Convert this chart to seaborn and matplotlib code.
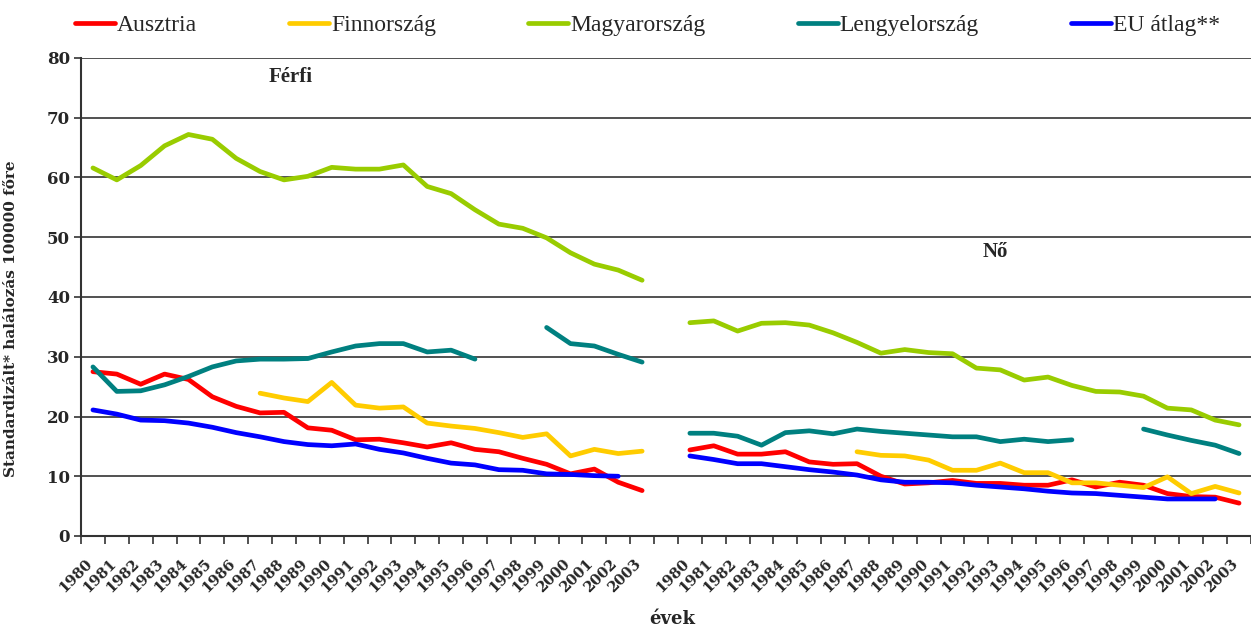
import numpy as np
import pandas as pd
import matplotlib
matplotlib.use("Agg")
import matplotlib.pyplot as plt
import matplotlib.transforms as mtransforms
from matplotlib.lines import Line2D
import seaborn as sns

nan = np.nan

# years on the category axis (men block, one empty slot, women block)
years = list(range(1980, 2004))

# Férfi (men)
ausztria_ferfi = [27.5, 27.1, 25.4, 27.1, 26.2, 23.3, 21.7, 20.6, 20.7, 18.1, 17.7, 16.1,
                  16.2, 15.6, 14.9, 15.6, 14.5, 14.1, 13.0, 12.0, 10.4, 11.2, 9.0, 7.6]
finn_ferfi = [nan, nan, nan, nan, nan, nan, nan, 23.9, 23.1, 22.5, 25.7, 21.9,
              21.4, 21.6, 18.9, 18.4, 18.0, 17.3, 16.5, 17.1, 13.4, 14.5, 13.8, 14.2]
magyar_ferfi = [61.6, 59.6, 62.0, 65.3, 67.2, 66.4, 63.2, 61.0, 59.6, 60.2, 61.7, 61.4,
                61.4, 62.1, 58.5, 57.3, 54.6, 52.2, 51.5, 49.9, 47.4, 45.5, 44.5, 42.8]
lengyel_ferfi = [28.3, 24.2, 24.3, 25.3, 26.7, 28.3, 29.3, 29.6, 29.6, 29.7, 30.8, 31.8,
                 32.2, 32.2, 30.8, 31.1, 29.6, nan, nan, 34.9, 32.2, 31.8, 30.4, 29.1]
eu_ferfi = [21.1, 20.4, 19.4, 19.3, 18.9, 18.2, 17.3, 16.6, 15.8, 15.3, 15.1, 15.4,
            14.5, 13.9, 13.0, 12.2, 11.9, 11.1, 11.0, 10.4, 10.3, 10.1, 10.0, nan]

# Nő (women)
ausztria_no = [14.4, 15.1, 13.7, 13.7, 14.1, 12.4, 12.0, 12.1, 10.0, 8.7, 8.9, 9.3,
               8.8, 8.8, 8.5, 8.5, 9.4, 8.2, 9.0, 8.5, 7.1, 6.6, 6.5, 5.5]
finn_no = [nan, nan, nan, nan, nan, nan, nan, 14.1, 13.5, 13.4, 12.7, 11.0,
           11.0, 12.2, 10.6, 10.6, 8.9, 8.9, 8.5, 8.1, 9.9, 7.1, 8.3, 7.2]
magyar_no = [35.7, 36.0, 34.3, 35.6, 35.7, 35.3, 34.0, 32.4, 30.6, 31.2, 30.7, 30.5,
             28.1, 27.8, 26.1, 26.6, 25.2, 24.2, 24.1, 23.4, 21.4, 21.1, 19.4, 18.6]
lengyel_no = [17.2, 17.2, 16.7, 15.2, 17.3, 17.6, 17.1, 17.9, 17.5, 17.2, 16.9, 16.6,
              16.6, 15.8, 16.2, 15.8, 16.1, nan, nan, 17.9, 16.9, 16.0, 15.2, 13.8]
eu_no = [13.4, 12.8, 12.1, 12.1, 11.6, 11.1, 10.7, 10.2, 9.4, 9.0, 9.0, 8.9,
         8.5, 8.2, 7.9, 7.5, 7.2, 7.1, 6.8, 6.5, 6.2, 6.2, 6.2, nan]

countries = ["Ausztria", "Finnország", "Magyarország", "Lengyelország", "EU átlag**"]
colors = ["#FF0000", "#FFCC00", "#99CC00", "#008080", "#0000FF"]
ferfi = [ausztria_ferfi, finn_ferfi, magyar_ferfi, lengyel_ferfi, eu_ferfi]
no = [ausztria_no, finn_no, magyar_no, lengyel_no, eu_no]

# long table, each unbroken run of values gets its own unit id
rows = []
seg = 0
for name, vf, vn in zip(countries, ferfi, no):
    for offset, vals in ((0, vf), (25, vn)):
        seg += 1
        for i, v in enumerate(vals):
            if np.isnan(v):
                seg += 1
                continue
            rows.append({"pos": offset + i, "ertek": v, "orszag": name, "seg": seg})
df = pd.DataFrame(rows)

sns.set_theme(style="white")
plt.rcParams["font.family"] = ["DejaVu Serif"]

fig = plt.figure(figsize=(12.51, 6.35), dpi=100)
ax = fig.add_axes([81 / 1251, 99 / 635, 1170 / 1251, 478 / 635])

sns.lineplot(data=df, x="pos", y="ertek", hue="orszag", units="seg", estimator=None,
             hue_order=countries, palette=dict(zip(countries, colors)),
             linewidth=3.4, legend=False, ax=ax)

ax.set_xlim(-0.5, 48.25)
ax.set_ylim(0, 80)
ax.set_yticks(np.arange(0, 81, 10))
ax.yaxis.grid(True, color="#333333", linewidth=1.2)
ax.xaxis.grid(False)
ax.set_axisbelow(True)
for s in ["top", "right"]:
    ax.spines[s].set_visible(False)
for s in ["left", "bottom"]:
    ax.spines[s].set_color("#333333")
    ax.spines[s].set_linewidth(1.5)

# tick marks on category borders, labels at category centres
ax.set_xticks(np.arange(-0.5, 49, 1))
ax.set_xticklabels([])
ax.tick_params(axis="x", which="major", direction="out", length=6, width=1.2, color="#333333", bottom=True)
label_pos = list(range(0, 24)) + list(range(25, 49))
ax.set_xticks(label_pos, minor=True)
ax.set_xticklabels([str(y) for y in years] * 2, minor=True, rotation=45,
                   ha="right", va="top", rotation_mode="anchor",
                   fontsize=10.5, fontweight="bold")
ax.tick_params(axis="x", which="minor", length=0, pad=15)
shift = mtransforms.ScaledTranslation(-0.08, 0, fig.dpi_scale_trans)
for lab in ax.get_xticklabels(minor=True):
    lab.set_transform(lab.get_transform() + shift)

ax.tick_params(axis="y", direction="out", length=5, width=1.2, color="#333333", left=True,
               labelsize=12, pad=3)
for lab in ax.get_yticklabels():
    lab.set_fontweight("bold")

ax.set_xlabel("évek", fontsize=13, fontweight="bold")
ax.xaxis.set_label_coords(0.505, -0.155)
ax.set_ylabel("Standardizált* halálozás 100000 főre", fontsize=11, fontweight="bold")
ax.yaxis.set_label_coords(-0.054, 0.455)

ax.text(8.3, 76.8, "Férfi", ha="center", va="center", fontsize=15,
        family="Liberation Serif", fontweight="bold")
ax.text(37.8, 47.5, "Nő", ha="center", va="center", fontsize=15,
        family="Liberation Serif", fontweight="bold")

handles = [Line2D([], [], color=c, linewidth=3.4) for c in colors]
fig.legend(handles, countries, loc="center left", bbox_to_anchor=(75 / 1251, 0.960),
           ncol=5, frameon=False, handlelength=1.7, handletextpad=0.08,
           columnspacing=3.9, borderpad=0, borderaxespad=0,
           prop={"family": "Liberation Serif", "size": 17})

fig.savefig("out.png", dpi=100)
